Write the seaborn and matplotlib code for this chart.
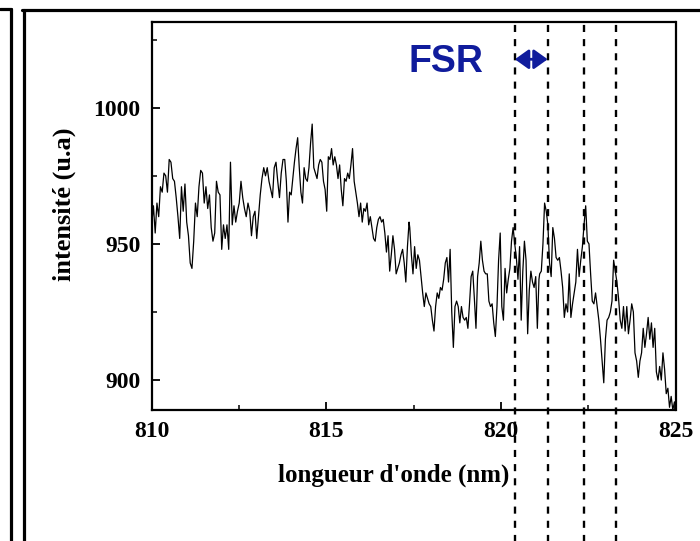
import numpy as np
import pandas as pd
import seaborn as sns
import matplotlib.pyplot as plt
from matplotlib.lines import Line2D
from matplotlib.ticker import MultipleLocator

# ------------------------------------------------------------
# Data (intensity, a.u.), in four pieces
# ------------------------------------------------------------
seg1_range = (810.00, 813.76)
seg1 = [957, 964, 954, 965, 960, 971, 969, 976, 975, 969, 981, 980, 974, 973,
        967, 960, 952, 971, 962, 972, 958, 953, 943, 941, 951, 965, 960, 971,
        977, 976, 965, 971, 963, 968, 956, 951, 954, 973, 969, 968, 948, 957,
        952, 957, 948, 980, 957, 964, 958, 962, 965, 973, 967, 963, 960, 965,
        962, 953, 960, 962, 952, 960, 968, 974, 978, 975, 978, 973, 970, 967,
        978, 980, 973, 967, 976, 981]

seg2_range = (813.81, 817.37)
seg2 = [981, 973, 958, 969, 968, 974, 980, 985, 989, 978, 969, 965, 978, 974,
        973, 978, 987, 994, 978, 976, 974, 979, 981, 980, 973, 970, 962, 982,
        981, 985, 979, 982, 979, 974, 979, 970, 964, 974, 973, 976, 974, 979,
        985, 973, 969, 965, 960, 965, 958, 963, 962, 965, 957, 960, 956, 952,
        951, 956, 959, 960, 958, 959, 954, 947, 953, 940, 946, 953, 948, 939,
        941, 943, 946, 948, 943, 936, 949, 958]

seg3_range = (817.39, 821.09)
seg3 = [956, 946, 939, 949, 941, 946, 944, 938, 932, 927, 932, 930, 928, 927,
        922, 918, 927, 932, 930, 934, 933, 937, 943, 945, 936, 948, 925, 912,
        927, 929, 927, 921, 927, 923, 922, 923, 919, 928, 938, 940, 930, 919,
        938, 943, 951, 944, 940, 939, 939, 929, 927, 928, 921, 916, 927, 944,
        954, 927, 922, 941, 932, 937, 941, 951, 956, 950, 945, 937, 949, 922,
        940, 951, 944, 917, 933, 940, 936, 934, 938, 919, 937]

seg4_range = (821.11, 824.97)
seg4 = [939, 940, 950, 965, 962, 957, 943, 938, 956, 952, 945, 944, 945, 940,
        934, 923, 928, 925, 939, 923, 928, 932, 936, 948, 938, 944, 949, 957,
        964, 951, 950, 939, 929, 928, 932, 927, 922, 915, 907, 899, 915, 922,
        923, 925, 929, 944, 940, 936, 930, 922, 919, 927, 918, 927, 917, 922,
        928, 925, 910, 907, 901, 907, 910, 919, 912, 917, 923, 915, 921, 912,
        919, 903, 900, 905, 900, 910, 904, 895, 897, 890, 894, 889, 892]

# positions of the dashed FSR markers (nm)
fsr_lines = [820.40, 821.34, 822.39, 823.29]

x_ticks = [810, 815, 820, 825]
y_ticks = [900, 950, 1000]

# build one table for seaborn (spectrometer grid is uniform in each piece)
pieces = []
for rng, vals in [(seg1_range, seg1), (seg2_range, seg2),
                  (seg3_range, seg3), (seg4_range, seg4)]:
    pieces.append(pd.DataFrame({'wl': np.linspace(rng[0], rng[1], len(vals)),
                                'I': vals}))
df = pd.concat(pieces, ignore_index=True)

# ------------------------------------------------------------
# Figure
# ------------------------------------------------------------
sns.set_style("ticks")
plt.rcParams['font.family'] = ['Liberation Serif', 'DejaVu Serif']
plt.rcParams.update({'text.color': 'black', 'axes.labelcolor': 'black',
                     'xtick.color': 'black', 'ytick.color': 'black',
                     'axes.edgecolor': 'black'})

fig = plt.figure(figsize=(7.0, 5.41), dpi=100)
ax = fig.add_axes([0.2167, 0.2421, 0.7483, 0.7178])

sns.lineplot(data=df, x='wl', y='I', ax=ax, color='black', linewidth=0.9,
             sort=False, estimator=None)

ax.set_xlim(810, 825)
ax.set_ylim(889, 1031.6)
ax.set_xticks(x_ticks)
ax.set_yticks(y_ticks)
ax.xaxis.set_minor_locator(MultipleLocator(2.5))
ax.yaxis.set_minor_locator(MultipleLocator(25))
ax.tick_params(which='major', direction='in', length=6, width=1.3,
               labelsize=17, pad=8)
ax.tick_params(which='minor', direction='in', length=3.5, width=1.1)
for lab in ax.get_xticklabels() + ax.get_yticklabels():
    lab.set_fontweight('bold')
for sp in ax.spines.values():
    sp.set_linewidth(1.6)
    sp.set_visible(True)

ax.set_xlabel("longueur d'onde (nm)", fontsize=18, fontweight='bold')
ax.xaxis.set_label_coords(0.462, -0.137)
ax.set_ylabel("intensité (u.a)", fontsize=19, fontweight='bold')
ax.yaxis.set_label_coords(-0.145, 0.53)

# dashed markers running past the axes down to the figure edge
for xv in fsr_lines:
    ax.axvline(xv, ymin=-0.34, ymax=1.0095, color='black', linewidth=1.7,
               linestyle=(0, (3, 3)), clip_on=False)

# FSR label and double arrow
ax.text(817.34, 1013.1, 'FSR', color='#101c9c', fontsize=27,
        fontweight='bold', family=['Liberation Sans', 'DejaVu Sans'],
        ha='left', va='baseline')
ax.annotate('', xy=(fsr_lines[1], 1017.8), xytext=(fsr_lines[0], 1017.8),
            arrowprops=dict(arrowstyle='<|-|>,head_length=0.42,head_width=0.3',
                            mutation_scale=20, color='#101c9c', lw=2,
                            shrinkA=0, shrinkB=0))

# panel frame lines (scanned figure border)
frame_kw = dict(transform=fig.transFigure, color='black', linewidth=2.3)
fig.add_artist(Line2D([0.0314, 1.0], [0.9824, 0.9824], **frame_kw))
fig.add_artist(Line2D([0.0336, 0.0336], [0.0, 0.9824], **frame_kw))
fig.add_artist(Line2D([0.0, 0.0157], [0.984, 0.984], **frame_kw))
fig.add_artist(Line2D([0.0157, 0.0157], [0.0, 0.984], **frame_kw))

fig.savefig('out.png', dpi=100)
